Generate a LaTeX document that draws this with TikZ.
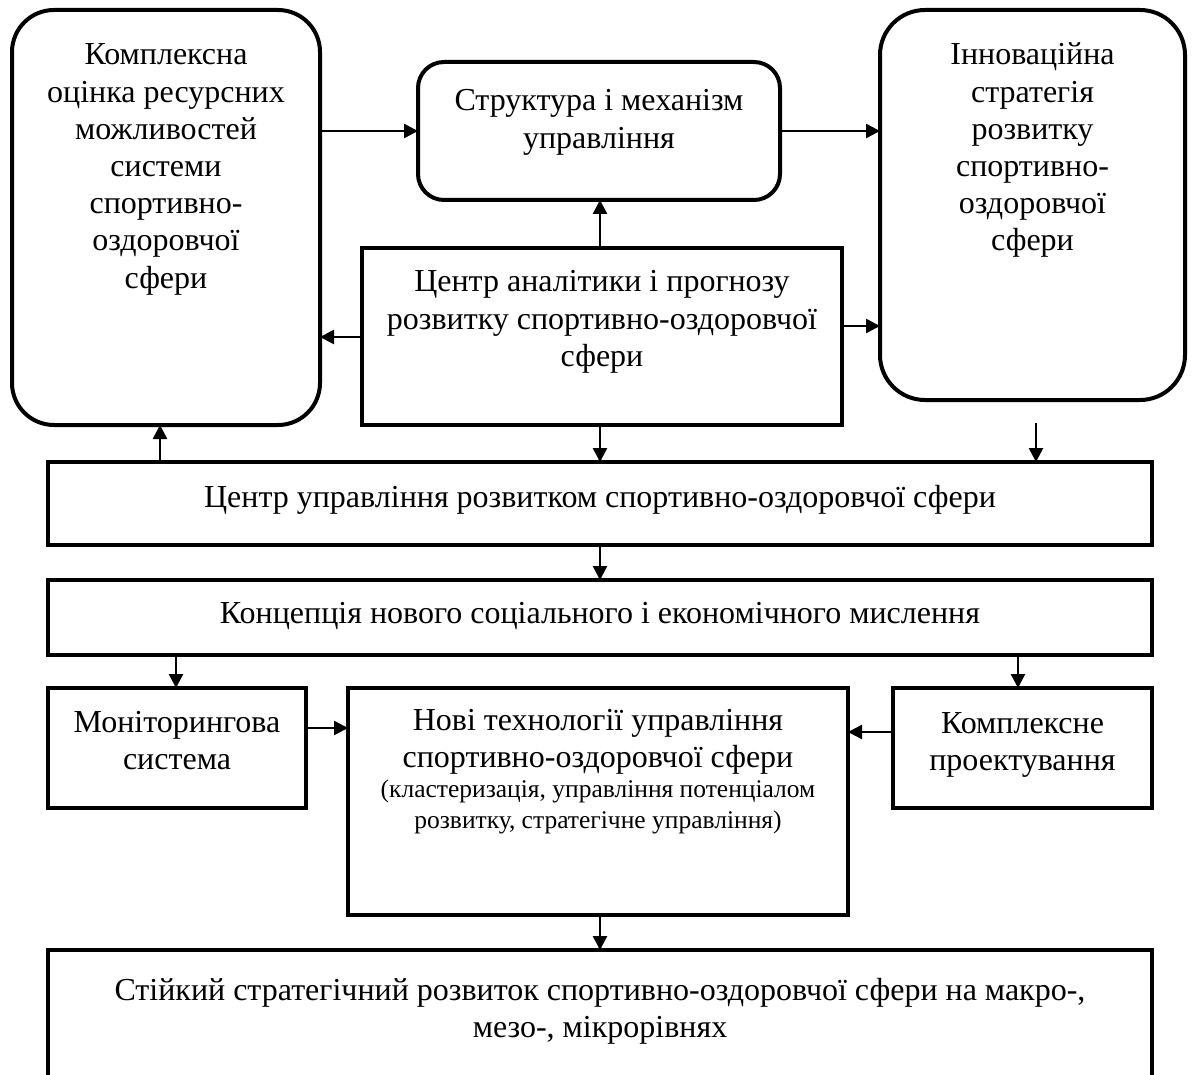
\documentclass[tikz,border=0pt]{standalone}
\usepackage{fontspec}
\setmainfont{Liberation Serif}
\usetikzlibrary{arrows.meta}
\newcommand\bigfnt{\fontsize{32pt}{37.2pt}\selectfont}
\newcommand\smfnt{\fontsize{25.5pt}{30.5pt}\selectfont}
\newcommand\boxtext[4]{\parbox[c][#2pt][t]{#1pt}{\centering\rule{0pt}{#3pt}#4\par}}
\tikzset{
  box/.style={draw, line width=4pt, inner sep=0pt, outer sep=0pt, font=\bigfnt},
  rbox/.style={box, rounded corners=#1},
  conn/.style={line width=2.6pt, -{Triangle[length=14pt,width=14pt]}},
}
\begin{document}
\begin{tikzpicture}[x=1pt,y=-1pt]
\fill[white] (0,0) rectangle (1192,1075);
\clip (0,0) rectangle (1192,1075);
% top row
\node[rbox=42pt, anchor=north west] (L) at (12,10)
  {\boxtext{308}{415}{55}{Комплексна\\оцінка ресурсних\\можливостей\\системи\\спортивно-\\оздоровчої\\сфери}};
\node[rbox=26pt, anchor=north west] (S) at (418,62)
  {\boxtext{362}{138}{49}{Структура і механізм\\управління}};
\node[rbox=45pt, anchor=north west] (R) at (880,10)
  {\boxtext{305}{390}{55}{Інноваційна\\стратегія\\розвитку\\спортивно-\\оздоровчої\\сфери}};
\node[box, anchor=north west] (C) at (362,248)
  {\boxtext{480}{177}{44}{Центр аналітики і прогнозу\\розвитку спортивно-оздоровчої\\сфери}};
% wide boxes
\node[box, anchor=north west] (U) at (48,462)
  {\boxtext{1104}{83}{45}{Центр управління розвитком спортивно-оздоровчої сфери}};
\node[box, anchor=north west] (K) at (48,580)
  {\boxtext{1104}{75}{43}{Концепція нового соціального і економічного мислення}};
% third row
\node[box, anchor=north west] (M) at (48,688)
  {\boxtext{258}{120}{44}{Моніторингова\\система}};
\node[box, anchor=north west] (N) at (348,688)
  {\boxtext{500}{227}{42}{Нові технології управління\\спортивно-оздоровчої сфери\par\smfnt (кластеризація, управління потенціалом\\розвитку, стратегічне управління)}};
\node[box, anchor=north west] (P) at (893,688)
  {\boxtext{259}{120}{45}{Комплексне\\проектування}};
\node[box, anchor=north west] (B) at (48,950)
  {\boxtext{1104}{170}{50}{Стійкий стратегічний розвиток спортивно-оздоровчої сфери на макро-,\\мезо-, мікрорівнях}};
% connectors
\draw[conn] (L.east |- S.west) -- (S.west);
\draw[conn] (S.east) -- (S.east -| R.west);
\draw[conn] (600,0 |- C.north) -- (600,0 |- S.south);
\draw[conn] (C.west |- 0,337) -- (L.east |- 0,337);
\draw[conn] (C.east |- 0,326) -- (R.west |- 0,326);
\draw[conn] (600,0 |- C.south) -- (600,0 |- U.north);
\coordinate (f) at (1036,423);
\draw[conn] (f) -- (f |- U.north);
\draw[conn] (160,0 |- U.north) -- (160,0 |- L.south);
\draw[conn] (600,0 |- U.south) -- (600,0 |- K.north);
\draw[conn] (176,0 |- K.south) -- (176,0 |- M.north);
\draw[conn] (1018,0 |- K.south) -- (1018,0 |- P.north);
\draw[conn] (M.east |- 0,728) -- (N.west |- 0,728);
\draw[conn] (P.west |- 0,732) -- (N.east |- 0,732);
\draw[conn] (600,0 |- N.south) -- (600,0 |- B.north);
\end{tikzpicture}
\end{document}
